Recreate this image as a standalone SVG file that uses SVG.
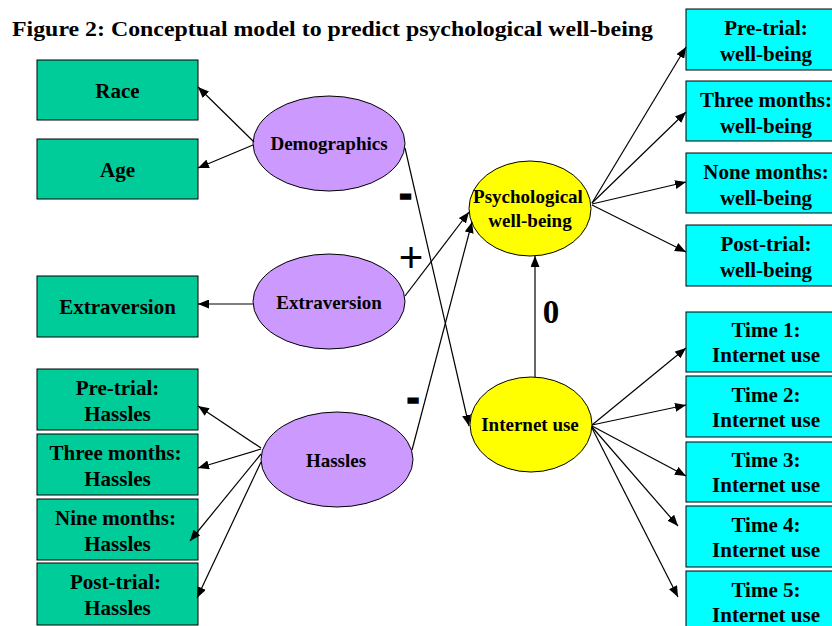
<svg xmlns="http://www.w3.org/2000/svg" width="832" height="626" viewBox="0 0 832 626">
<defs>
<marker id="ah" markerWidth="11" markerHeight="9" refX="11" refY="4.5" orient="auto" markerUnits="userSpaceOnUse">
<path d="M0,0 L11,4.5 L0,9 Z" fill="#000"/>
</marker>
</defs>
<style>
text{font-family:"Liberation Serif","Times New Roman",serif;font-weight:bold;fill:#000;text-anchor:middle}
.bt{font-size:21px}
.et{font-size:19px}
.g{fill:#00CC99;stroke:#000;stroke-width:1}
.c{fill:#00FFFF;stroke:#000;stroke-width:1}
.p{fill:#CC99FF;stroke:#000;stroke-width:1}
.y{fill:#FFFF00;stroke:#000;stroke-width:1}
#connectors line{stroke:#000;stroke-width:1.2;marker-end:url(#ah)}
.sign{font-family:"Liberation Sans",Arial,sans-serif;font-weight:normal}
.minus{font-family:"Liberation Sans",Arial,sans-serif;font-size:38px;stroke:#000;stroke-width:1.6}
</style>
<rect width="832" height="626" fill="#fff"/>
<text x="12" y="36" style="font-size:22px;text-anchor:start" textLength="641" lengthAdjust="spacingAndGlyphs">Figure 2: Conceptual model to predict psychological well-being</text>

<g id="race"><rect class="g" x="37" y="60" width="161" height="60"/><text class="bt" x="117.5" y="98">Race</text></g>
<g id="age"><rect class="g" x="37" y="139" width="161" height="60"/><text class="bt" x="117.5" y="177">Age</text></g>
<g id="extraversion-box"><rect class="g" x="37" y="276" width="161" height="61"/><text class="bt" x="117.5" y="314">Extraversion</text></g>
<g id="hassles-pre"><rect class="g" x="37" y="369" width="161" height="61"/><text class="bt" x="117.5" y="395">Pre-trial:</text><text class="bt" x="117.5" y="421">Hassles</text></g>
<g id="hassles-three"><rect class="g" x="37" y="434" width="161" height="61"/><text class="bt" x="115.5" y="460">Three months:</text><text class="bt" x="117.5" y="486">Hassles</text></g>
<g id="hassles-nine"><rect class="g" x="37" y="499" width="161" height="61"/><text class="bt" x="115.5" y="525">Nine months:</text><text class="bt" x="117.5" y="551">Hassles</text></g>
<g id="hassles-post"><rect class="g" x="37" y="563" width="161" height="62"/><text class="bt" x="115.5" y="589">Post-trial:</text><text class="bt" x="117.5" y="615">Hassles</text></g>

<g id="demographics"><ellipse class="p" cx="329" cy="143.5" rx="76" ry="47.5"/><text class="et" x="329" y="150">Demographics</text></g>
<g id="extraversion"><ellipse class="p" cx="329" cy="301.5" rx="76" ry="47.5"/><text class="et" x="329" y="309">Extraversion</text></g>
<g id="hassles"><ellipse class="p" cx="337" cy="459.5" rx="76" ry="47.5"/><text class="et" x="336" y="467">Hassles</text></g>

<g id="pwb"><ellipse class="y" cx="530" cy="208.5" rx="61" ry="47.5"/><text class="et" x="528" y="203">Psychological</text><text class="et" x="530" y="227">well-being</text></g>
<g id="internet"><ellipse class="y" cx="531" cy="424.5" rx="61" ry="47.5"/><text class="et" x="530" y="431">Internet use</text></g>

<g id="wb-pre"><rect class="c" x="686" y="9" width="161" height="61"/><text class="bt" x="766" y="35">Pre-trial:</text><text class="bt" x="766" y="61">well-being</text></g>
<g id="wb-three"><rect class="c" x="686" y="81" width="161" height="60"/><text class="bt" x="766" y="107">Three months:</text><text class="bt" x="766" y="133">well-being</text></g>
<g id="wb-none"><rect class="c" x="686" y="153" width="161" height="60"/><text class="bt" x="766" y="179">None months:</text><text class="bt" x="766" y="205">well-being</text></g>
<g id="wb-post"><rect class="c" x="686" y="225" width="161" height="61"/><text class="bt" x="766" y="251">Post-trial:</text><text class="bt" x="766" y="277">well-being</text></g>

<g id="iu-1"><rect class="c" x="686" y="312" width="161" height="60"/><text class="bt" x="766" y="337">Time 1:</text><text class="bt" x="766" y="362">Internet use</text></g>
<g id="iu-2"><rect class="c" x="686" y="376" width="161" height="61"/><text class="bt" x="766" y="402">Time 2:</text><text class="bt" x="766" y="427">Internet use</text></g>
<g id="iu-3"><rect class="c" x="686" y="442" width="161" height="60"/><text class="bt" x="766" y="467">Time 3:</text><text class="bt" x="766" y="492">Internet use</text></g>
<g id="iu-4"><rect class="c" x="686" y="506" width="161" height="61"/><text class="bt" x="766" y="532">Time 4:</text><text class="bt" x="766" y="557">Internet use</text></g>
<g id="iu-5"><rect class="c" x="686" y="571" width="161" height="62"/><text class="bt" x="766" y="597">Time 5:</text><text class="bt" x="766" y="622">Internet use</text></g>

<g id="connectors">
<line x1="254" y1="142" x2="198" y2="87"/>
<line x1="253" y1="145" x2="198" y2="168"/>
<line x1="253" y1="304" x2="198" y2="304"/>
<line x1="261" y1="448" x2="198" y2="406"/>
<line x1="261" y1="449" x2="198" y2="468"/>
<line x1="261" y1="454" x2="190" y2="541"/>
<line x1="261" y1="462" x2="197" y2="598"/>
<line x1="405" y1="148" x2="469" y2="426"/>
<line x1="405" y1="296" x2="469" y2="212"/>
<line x1="412" y1="450" x2="472" y2="222"/>
<line x1="535" y1="377" x2="535" y2="256"/>
<line x1="592" y1="203" x2="686" y2="47"/>
<line x1="592" y1="203" x2="686" y2="112"/>
<line x1="592" y1="204" x2="686" y2="182"/>
<line x1="592" y1="205" x2="686" y2="252"/>
<line x1="592" y1="425" x2="686" y2="348"/>
<line x1="592" y1="425" x2="686" y2="405"/>
<line x1="592" y1="426" x2="686" y2="476"/>
<line x1="592" y1="427" x2="678" y2="526"/>
<line x1="592" y1="428" x2="678" y2="597"/>
</g>

<g id="signs">
<text class="minus" x="405.5" y="207">-</text>
<text class="sign" x="411" y="272" style="font-size:42px">+</text>
<text class="minus" x="413" y="411">-</text>
<text x="551" y="323" style="font-size:33px">0</text>
</g>
</svg>
